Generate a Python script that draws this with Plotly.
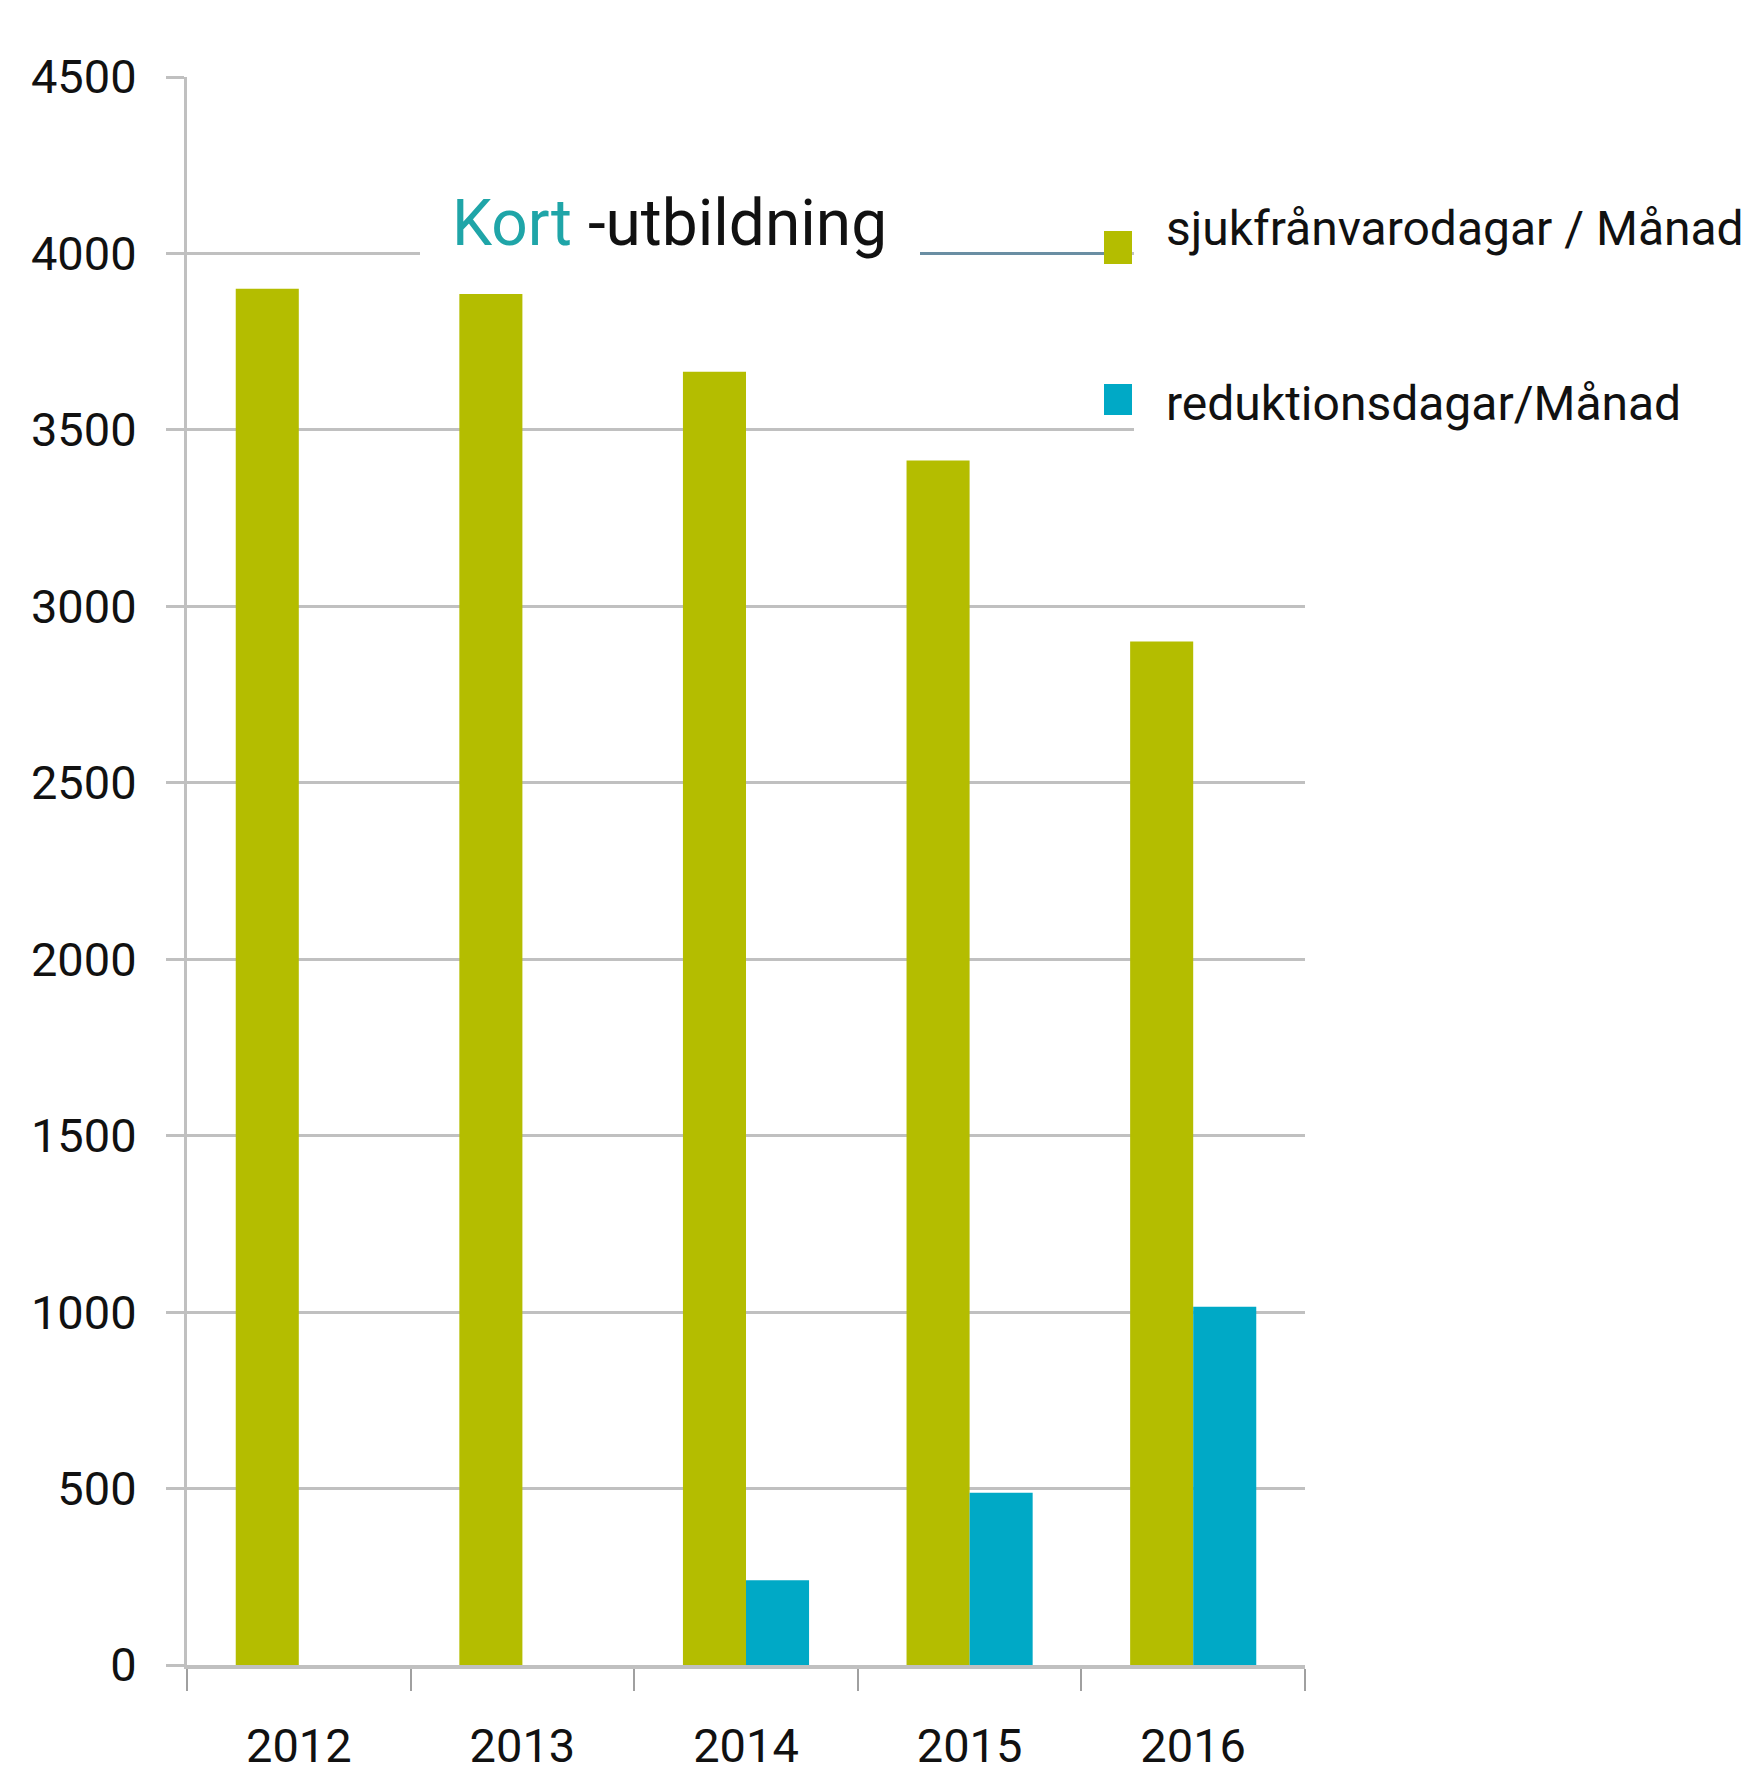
import plotly.graph_objects as go

# ---- data ----
years = ["2012", "2013", "2014", "2015", "2016"]
sjuk_values = [3900, 3885, 3665, 3413, 2900]
reduk_values = [0, 0, 240, 488, 1015]
y_ticks = [0, 500, 1000, 1500, 2000, 2500, 3000, 3500, 4000, 4500]
series_names = ["sjukfrånvarodagar / Månad", "reduktionsdagar/Månad"]
title_colored = "Kort"
title_rest = " -utbildning"

# ---- style ----
GREEN = "#b4bd00"
BLUE = "#00a9c6"
TEAL = "#1fa5a8"
GRID = "#c0c0c0"
LINE_BLUEGREY = "#6a8ea3"
FONT = "Roboto, Liberation Sans, sans-serif"

W, H = 1759, 1770
L, R, T, B = 187, 1305, 77, 1665
PAGE_OFF = 8  # default body margin of the html page


def px(x):
    return (x - L) / (R - L)


def py(y):
    return (B - y) / (B - T)


fig = go.Figure()
fig.add_trace(go.Bar(x=years, y=sjuk_values, name=series_names[0],
                     marker=dict(color=GREEN, line=dict(width=0)), showlegend=False))
fig.add_trace(go.Bar(x=years, y=reduk_values, name=series_names[1],
                     marker=dict(color=BLUE, line=dict(width=0)), showlegend=False))

shapes = [
    # white box behind the title (interrupts the 4000 gridline)
    dict(type="rect", xref="paper", yref="paper", x0=px(420), x1=px(920),
         y0=py(272), y1=py(238), fillcolor="white", line=dict(width=0), layer="above"),
    # white legend box
    dict(type="rect", xref="paper", yref="paper", x0=px(1134), x1=px(1308),
         y0=py(450), y1=py(200), fillcolor="white", line=dict(width=0), layer="above"),
    # blue-grey line segment between title and legend
    dict(type="line", xref="paper", yref="y", x0=px(920), x1=px(1132),
         y0=4000, y1=4000, line=dict(color=LINE_BLUEGREY, width=3), layer="above"),
    # legend swatches
    dict(type="rect", xref="paper", yref="paper", x0=px(1104), x1=px(1132),
         y0=py(264), y1=py(231), fillcolor=GREEN, line=dict(width=0), layer="above"),
    dict(type="rect", xref="paper", yref="paper", x0=px(1104), x1=px(1132),
         y0=py(415), y1=py(384), fillcolor=BLUE, line=dict(width=0), layer="above"),
]

annotations = [
    dict(xref="paper", yref="paper", x=px(450), y=py(224), xanchor="left", yanchor="middle",
         text=f"<span style='color:{TEAL}'>{title_colored}</span>{title_rest}",
         showarrow=False, font=dict(family=FONT, size=64, color="#111111")),
    dict(xref="paper", yref="paper", x=px(1164), y=py(228), xanchor="left", yanchor="middle",
         text=series_names[0], showarrow=False,
         font=dict(family=FONT, size=48, color="#111111")),
    dict(xref="paper", yref="paper", x=px(1164), y=py(404), xanchor="left", yanchor="middle",
         text=series_names[1], showarrow=False,
         font=dict(family=FONT, size=48, color="#111111")),
]

fig.update_layout(
    width=W, height=H, autosize=False,
    margin=dict(l=L - PAGE_OFF, r=W - R + PAGE_OFF, t=T - PAGE_OFF, b=H - B + PAGE_OFF, pad=0),
    paper_bgcolor="white", plot_bgcolor="white",
    barmode="group", bargap=0.436, bargroupgap=0,
    font=dict(family=FONT, color="#111111"),
    shapes=shapes, annotations=annotations,
    xaxis=dict(
        type="category", showline=True, linecolor=GRID, linewidth=4,
        ticks="outside", tickson="boundaries", ticklen=22, tickwidth=2, tickcolor="#a0a0a0",
        tickfont=dict(family=FONT, size=47, color="#111111"),
        ticklabelstandoff=37, showgrid=False, zeroline=False, automargin=False,
    ),
    yaxis=dict(
        range=[0, 4500], tickvals=y_ticks, ticktext=[str(v) for v in y_ticks],
        showgrid=True, gridcolor=GRID, gridwidth=3,
        showline=True, linecolor=GRID, linewidth=3,
        ticks="outside", ticklen=18, tickwidth=3, tickcolor=GRID,
        tickfont=dict(family=FONT, size=47, color="#111111"),
        ticklabelstandoff=20, zeroline=False, automargin=False,
    ),
)

fig.write_html("out.html")
